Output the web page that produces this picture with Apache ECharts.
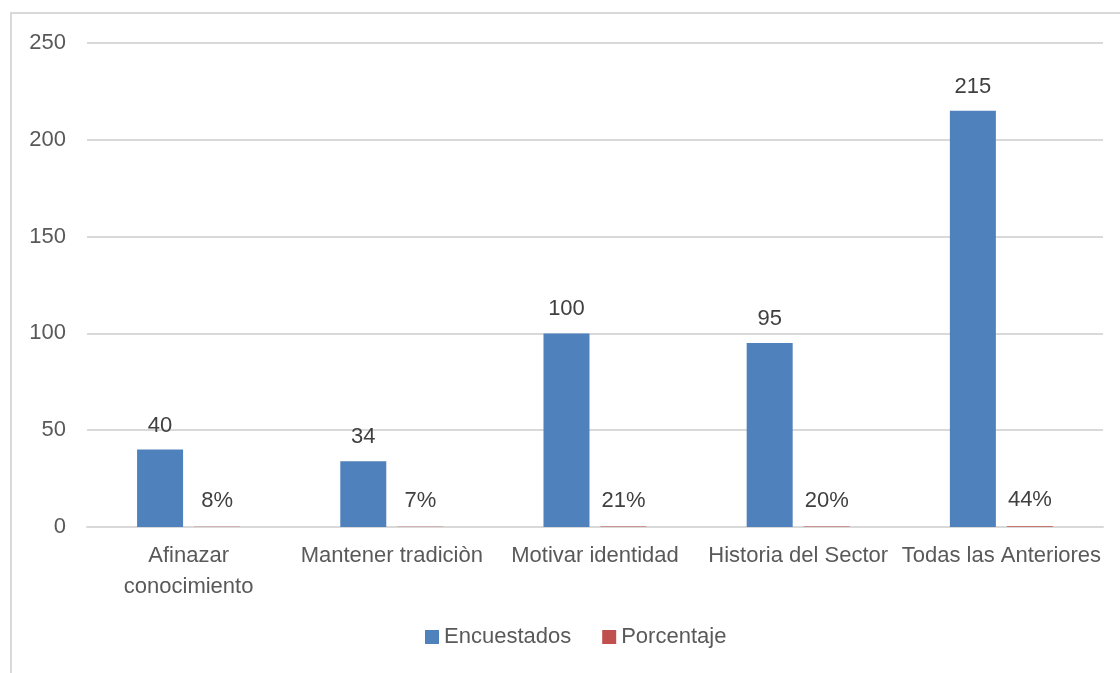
<!DOCTYPE html>
<html>
<head>
<meta charset="utf-8">
<script src="https://cdn.jsdelivr.net/npm/echarts@6/dist/echarts.min.js"></script>
<style>
  html, body { margin: 0; padding: 0; background: #fff; }
  #chart { width: 1120px; height: 673px; }
</style>
</head>
<body>
<div id="chart"></div>
<script>
// categorías y valores
const categorias = ['Afinazar\nconocimiento', 'Mantener tradiciòn', 'Motivar identidad', 'Historia del Sector', 'Todas las Anteriores']
const encuestados = [40, 34, 100, 95, 215]
const porcentaje = [0.08, 0.07, 0.21, 0.20, 0.44]
const yTicks = [0, 50, 100, 150, 200, 250]

const fuente = 'Liberation Sans, Arial, sans-serif'
const gris = '#595959'

const chart = echarts.init(document.getElementById('chart'))

chart.setOption({
    animation: false,
    textStyle: { fontFamily: fuente },
    // borde del área del gráfico
    graphic: [{
        type: 'rect',
        shape: { x: 11, y: 13, width: 1200, height: 800 },
        style: { fill: 'none', stroke: '#d9d9d9', lineWidth: 2 },
        silent: true
    }],
    grid: { left: 87, right: 17, top: 43, bottom: 146 },
    legend: {
        bottom: 20,
        left: 420,
        itemWidth: 14,
        itemHeight: 14,
        itemGap: 31,
        icon: 'rect',
        textStyle: { color: gris, fontSize: 22, fontFamily: fuente },
        data: ['Encuestados', 'Porcentaje']
    },
    xAxis: {
        type: 'category',
        data: categorias,
        axisLine: { lineStyle: { color: '#d9d9d9', width: 2 } },
        axisTick: { show: false },
        axisLabel: { color: gris, fontSize: 22, lineHeight: 31, margin: 13, interval: 0, fontFamily: fuente }
    },
    yAxis: {
        type: 'value',
        min: yTicks[0],
        max: yTicks[yTicks.length - 1],
        interval: 50,
        axisLine: { show: false },
        axisTick: { show: false },
        splitLine: { lineStyle: { color: '#d9d9d9', width: 2 } },
        axisLabel: { color: gris, fontSize: 22, margin: 21, fontFamily: fuente }
    },
    series: [
        {
            name: 'Encuestados',
            type: 'bar',
            data: encuestados,
            barWidth: 46,
            barGap: '24%',
            itemStyle: { color: '#4f81bd' },
            label: {
                show: true, position: 'top', distance: 13,
                color: '#404040', fontSize: 22, fontFamily: fuente
            }
        },
        {
            name: 'Porcentaje',
            type: 'bar',
            data: porcentaje,
            barWidth: 46,
            itemStyle: { color: '#c0504d' },
            label: {
                show: true, position: 'top', distance: 15,
                color: '#404040', fontSize: 22, fontFamily: fuente,
                formatter: p => Math.round(p.value * 100) + '%'
            }
        }
    ]
})
</script>
</body>
</html>
